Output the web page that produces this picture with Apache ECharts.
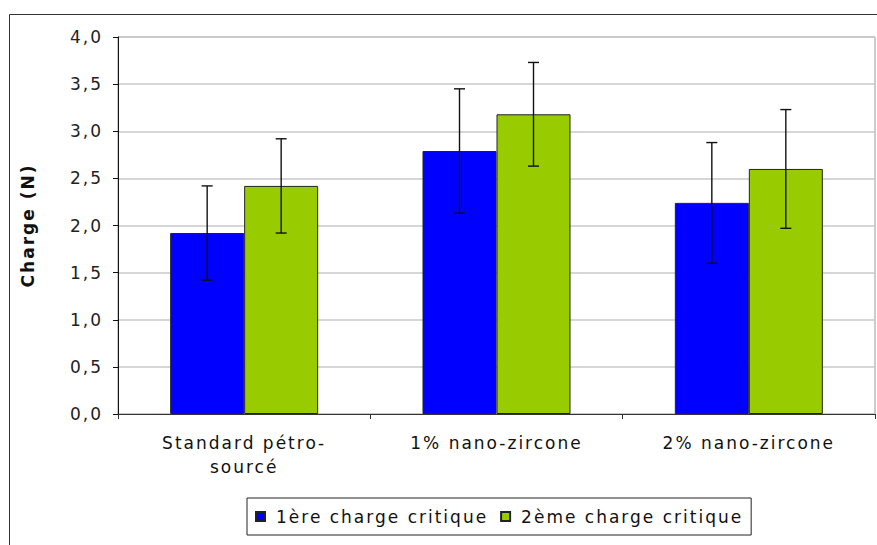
<!DOCTYPE html>
<html>
<head>
<meta charset="utf-8">
<script src="https://cdn.jsdelivr.net/npm/echarts@6/dist/echarts.min.js"></script>
<style>
html,body{margin:0;padding:0;background:#fff}
#c{width:877px;height:545px}
#c svg text{letter-spacing:2px}
</style>
</head>
<body>
<div id="c"></div>
<script>
const categories = ['Standard pétro-\nsourcé', '1% nano-zircone', '2% nano-zircone'];
const seriesNames = ['1ère charge critique', '2ème charge critique'];
const values1 = [1.92, 2.79, 2.24];
const errors1 = [0.50, 0.66, 0.64];
const values2 = [2.42, 3.18, 2.60];
const errors2 = [0.50, 0.55, 0.63];
const yTicks = [0, 0.5, 1, 1.5, 2, 2.5, 3, 3.5, 4];

const BAR_W = 74;
const LETTER_SPACING = 2;
const FONT = 'DejaVu Sans, Verdana, sans-serif';

// measure text including the CSS letter spacing used for the SVG text
const mctx = document.createElement('canvas').getContext('2d');
echarts.setPlatformAPI({
  measureText: function (text, font) {
    mctx.font = font || '12px sans-serif';
    const m = mctx.measureText(text);
    return { width: m.width + LETTER_SPACING * String(text).length };
  }
});

function errSeries(vals, errs, side) {
  return {
    type: 'custom',
    z: 10,
    silent: true,
    data: vals.map((v, i) => [i, v - errs[i], v + errs[i]]),
    renderItem: function (params, api) {
      const i = api.value(0);
      const lo = api.coord([i, api.value(1)]);
      const hi = api.coord([i, api.value(2)]);
      const x = lo[0] + side * BAR_W / 2;
      const cap = 5.5;
      const st = { stroke: '#111', lineWidth: 1.4 };
      return {
        type: 'group',
        children: [
          { type: 'line', shape: { x1: x, y1: hi[1], x2: x, y2: lo[1] }, style: st },
          { type: 'line', shape: { x1: x - cap, y1: hi[1], x2: x + cap, y2: hi[1] }, style: st },
          { type: 'line', shape: { x1: x - cap, y1: lo[1], x2: x + cap, y2: lo[1] }, style: st }
        ]
      };
    }
  };
}

const chart = echarts.init(document.getElementById('c'), null, { renderer: 'svg' });
chart.setOption({
  animation: false,
  backgroundColor: '#fff',
  textStyle: { fontFamily: FONT },
  graphic: [{
    type: 'rect', left: 7, top: 12, z: -10,
    shape: { width: 900, height: 600 },
    style: { fill: 'none', stroke: '#333', lineWidth: 1 }
  }],
  grid: {
    left: 118, top: 37, right: 2, bottom: 131,
    show: true, borderColor: '#999', borderWidth: 1, backgroundColor: '#fff'
  },
  legend: {
    left: 247, top: 498,
    padding: [9, 8, 9, 8],
    borderColor: '#222', borderWidth: 1,
    itemWidth: 9, itemHeight: 9, itemGap: 12,
    icon: 'rect',
    textStyle: { fontSize: 17, color: '#111', fontFamily: FONT, padding: [0, 0, 0, 6] },
    data: seriesNames
  },
  xAxis: {
    type: 'category',
    data: categories,
    axisLine: { lineStyle: { color: '#333', width: 1 } },
    axisTick: { show: true, length: 5, lineStyle: { color: '#333' } },
    axisLabel: { fontSize: 17, color: '#111', margin: 17, lineHeight: 24, fontFamily: FONT },
    splitLine: { show: false }
  },
  yAxis: {
    type: 'value',
    min: 0, max: 4, interval: 0.5,
    name: 'Charge (N)',
    nameLocation: 'middle',
    nameGap: 81,
    nameRotate: 90,
    nameTextStyle: { fontSize: 17, fontWeight: 'bold', color: '#111', fontFamily: FONT },
    axisLine: { show: true, lineStyle: { color: '#111', width: 1 } },
    axisTick: { show: true, length: 5, lineStyle: { color: '#111' } },
    axisLabel: {
      fontSize: 17, color: '#222', margin: 15, fontFamily: FONT,
      formatter: v => yTicks.includes(v) ? v.toFixed(1).replace('.', ',') : ''
    },
    splitLine: { show: true, lineStyle: { color: '#c8c8c8', width: 1.5 } }
  },
  series: [
    {
      name: seriesNames[0], type: 'bar', data: values1, barWidth: BAR_W, barGap: '0%',
      itemStyle: { color: '#0000ff', borderColor: '#222', borderWidth: 1 }
    },
    {
      name: seriesNames[1], type: 'bar', data: values2, barWidth: BAR_W, barGap: '0%',
      itemStyle: { color: '#99cc00', borderColor: '#222', borderWidth: 1 }
    },
    errSeries(values1, errors1, -1),
    errSeries(values2, errors2, 1)
  ]
});
</script>
</body>
</html>
